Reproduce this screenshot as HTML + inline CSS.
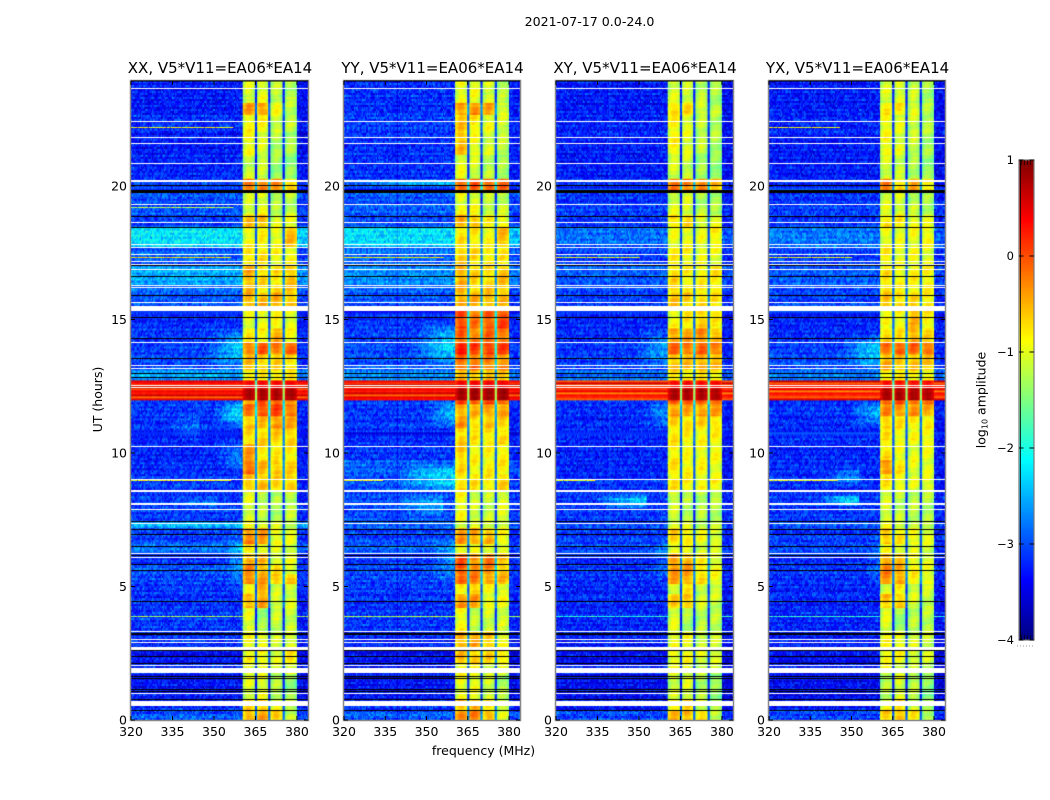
<!DOCTYPE html>
<html lang="en">
<head>
<meta charset="utf-8">
<title>2021-07-17 0.0-24.0</title>
<style>
html,body{margin:0;padding:0;background:#fff;}
#figure{position:relative;width:1050px;height:800px;overflow:hidden;background:#fff;font-family:"DejaVu Sans","Liberation Sans",sans-serif;}
canvas{position:absolute;display:block;}
svg{position:absolute;left:0;top:0;}
text{font-family:"DejaVu Sans","Liberation Sans",sans-serif;fill:#000;}
</style>
</head>
<body>
<div id="figure">
<canvas id="heat-xx" width="177" height="639" style="left:131px;top:81px"></canvas>
<canvas id="heat-yy" width="176" height="639" style="left:344px;top:81px"></canvas>
<canvas id="heat-xy" width="177" height="639" style="left:556px;top:81px"></canvas>
<canvas id="heat-yx" width="176" height="639" style="left:769px;top:81px"></canvas>
<canvas id="cbar" width="15" height="480" style="left:1019px;top:160px"></canvas>
<svg id="overlay" width="1050" height="800" xmlns="http://www.w3.org/2000/svg">
<text x="589.500" y="26" font-size="12.600" text-anchor="middle">2021-07-17 0.0-24.0</text>
<text x="483.500" y="755" font-size="12.500" text-anchor="middle">frequency (MHz)</text>
<text transform="translate(102,399.500) rotate(-90)" font-size="12.500" text-anchor="middle">UT (hours)</text>
<text transform="translate(985.500,400) rotate(-90)" font-size="12.500" text-anchor="middle">log<tspan font-size="8" dy="2">10</tspan><tspan dy="-2"> amplitude</tspan></text>
</svg>
</div>
<script>
// ---- chart data (log10 amplitude, hours, MHz) ----
const panelTitles = ["XX, V5*V11=EA06*EA14","YY, V5*V11=EA06*EA14","XY, V5*V11=EA06*EA14","YX, V5*V11=EA06*EA14"];
const panelKeys = ["xx","yy","xy","yx"];
const xTickValues = [320,335,350,365,380];
const yTickValues = [0,5,10,15,20];
const cbarTickValues = [1,0,-1,-2,-3,-4];
const subbandStarts = [360.6,365.7,370.6,375.6];
const subbandEnds = [364.8,369.8,374.7,380.0];
const segmentEdges = [23.93,23.1,22.65,22.0,21.2,20.25,19.85,19.3,18.9,18.47,17.75,17.0,16.3,16.0,15.5,14.65,14.15,13.65,13.1,12.75,12.42,12.0,11.8,11.35,10.9,10.3,9.75,9.2,8.55,7.42,7.2,6.6,6.2,5.85,5.45,5.05,4.7,4.2,3.3,2.65,2.1,1.7,0.75,0.4,0];
// each row: off-band level, then four sub-band levels
const xxLevels = [[-3.2,-.95,-.9,-1.05,-1.15],[-3.2,-.3,-.3,-.85,-1.1],[-3.1,-.8,-.8,-1,-1.1],[-3.2,-.8,-.95,-1.15,-1.2],[-3.15,-1.05,-1.05,-1.25,-1.3],[-3,-.1,-.2,-.2,-.6],[-2.95,-1,-.95,-1.2,-1.15],[-2.9,-.95,-.9,-1.1,-1.1],[-3,-.5,-.45,-.9,-.85],[-2.15,-.8,-.75,-.85,-.5],[-2.85,-.65,-.7,-.8,-.8],[-2.45,-.4,-.6,-.65,-.5],[-2.8,-.45,-.7,-.6,-.55],[-2.9,-.4,-.45,-.4,-.5],[-3.1,-.9,-.85,-.75,-.9],[-3.05,-.7,-.75,-.4,-.85],[-3,-.15,0,-.1,0],[-2.95,-.5,-.55,-.55,-.65],[-2.5,-.7,-.75,-.7,-.75],[.25,.45,.45,.45,.45],[.3,.85,.85,.85,.85],[-3,-.4,.1,.05,-.3],[-3.05,-.1,.1,.15,-.1],[-3.1,-.5,-.45,-.25,-.4],[-3.15,-.6,-.6,-.55,-.55],[-3.15,-.3,-.65,-.7,-.7],[-3.1,-.05,-.45,-.5,-.6],[-3.05,-.5,-.5,-.6,-.55],[-3,-.95,-1.1,-1.15,-1.1],[-2.4,-.85,-.9,-1,-1.05],[-3,-.2,-.3,-.8,-.9],[-2.75,-.75,-.85,-.95,-1],[-3.1,-.35,-.45,-.9,-.95],[-2.9,-.2,-.4,-.7,-.95],[-3,-.15,-.35,-.5,-.55],[-3.05,-.9,-.35,-1,-1],[-3.1,-.4,-.35,-.95,-1],[-3.05,-.9,-1.25,-1.05,-1.05],[-3.1,-.85,-.85,-1,-.95],[-3.3,-.8,-.8,-.95,-.7],[-3.1,-.85,-.9,-1,-.9],[-3.25,-.95,-.9,-1.1,-1.3],[-3.1,-.6,-.5,-.9,-1.05],[-2.9,-.4,-.4,-.5,-1.05]];
const yyLevels = [[-3.1,-.85,-.85,-.95,-1.15],[-3.1,-.3,-.25,-.35,-.95],[-3,-.5,-.7,-.85,-1],[-3.1,-.45,-.85,-1,-1.1],[-3.1,-.9,-1,-1.1,-1.2],[-2.9,.05,.05,.05,-.05],[-2.9,-.9,-.95,-1.1,-1.1],[-2.85,-.8,-.85,-1,-1.05],[-2.95,-.4,-.45,-.75,-.8],[-2.2,-.65,-.7,-.8,-.5],[-2.8,-.55,-.65,-.7,-.7],[-2.6,-.35,-.55,-.6,-.5],[-2.8,-.4,-.6,-.55,-.5],[-2.9,-.35,-.4,-.4,-.45],[-3.05,.15,-.1,.05,.1],[-3,0,-.15,-.05,-.1],[-2.95,.35,.15,.2,.15],[-2.9,-.05,-.1,-.15,-.25],[-2.6,-.45,-.5,-.5,-.55],[.3,.5,.5,.5,.5],[.3,.9,.9,.9,.9],[-3,.1,.1,.1,0],[-3.05,-.35,-.4,-.3,-.35],[-3.05,-.3,-.6,-.55,-.6],[-3.1,-.55,-.7,-.65,-.65],[-3.05,-.55,-.75,-.75,-.75],[-2.85,-.6,-.75,-.75,-.75],[-2.95,-.65,-.7,-.7,-.6],[-2.95,-.8,-1,-1.05,-.95],[-2.8,-.9,-.95,-1,-1],[-3,-.3,-.35,-.45,-.8],[-2.8,-.75,-.85,-.85,-.95],[-3.05,.05,-.2,-.1,-.5],[-2.95,.1,-.2,-.2,-.5],[-3,-.05,-.15,-.3,-.45],[-3.05,-.8,-.5,-.85,-.9],[-3.1,-.25,-.3,-.85,-.9],[-3.05,-.8,-1.1,-1,-1],[-3.15,-.35,-.35,-.5,-.9],[-3.3,-.45,-.5,-.6,-.7],[-3.15,-.75,-.8,-.9,-.9],[-3.25,-.85,-.85,-1,-1.2],[-3.1,-.45,-.4,-.75,-1],[-2.9,-.2,-.2,-.4,-1]];
const xyLevels = [[-3.2,-.95,-1,-1.1,-1.2],[-3.2,-.6,-.65,-.95,-1.1],[-3.15,-.75,-.9,-1.05,-1.15],[-3.2,-.75,-.95,-1.1,-1.2],[-3.2,-1,-1.05,-1.2,-1.3],[-3.1,-.1,-.15,-.2,-.5],[-3.05,-1,-1,-1.15,-1.2],[-3,-.95,-.95,-1.1,-1.15],[-3.05,-.6,-.6,-.9,-.9],[-2.75,-.85,-.85,-.9,-.75],[-3,-.75,-.8,-.85,-.9],[-2.85,-.6,-.75,-.75,-.7],[-2.95,-.55,-.75,-.7,-.7],[-3,-.5,-.55,-.6,-.65],[-3.15,-.8,-.7,-.55,-.75],[-3.1,-.3,-.35,-.2,-.45],[-3.05,-.05,-.1,0,-.15],[-3,-.45,-.45,-.35,-.5],[-2.75,-.7,-.75,-.7,-.75],[.15,.4,.4,.4,.4],[.15,.85,.85,.85,.8],[-3.1,.05,.05,0,-.05],[-3.1,-.3,-.35,-.3,-.35],[-3.15,-.55,-.65,-.6,-.65],[-3.15,-.7,-.75,-.75,-.75],[-3.15,-.7,-.8,-.8,-.85],[-3.15,-.65,-.75,-.8,-.85],[-3.1,-.7,-.75,-.8,-.8],[-3.05,-1,-1.15,-1.15,-1.15],[-2.95,-.95,-1,-1.05,-1.1],[-3.05,-.6,-.7,-.85,-.95],[-2.95,-.85,-.9,-.95,-1.05],[-3.15,-.3,-.4,-.75,-.9],[-3.05,-.2,-.3,-.6,-.85],[-3.1,-.35,-.35,-.65,-.8],[-3.15,-.9,-.7,-1,-1.05],[-3.15,-.55,-.5,-1,-1.05],[-3.15,-.95,-1.2,-1.1,-1.1],[-3.2,-.85,-.85,-1,-1.05],[-3.35,-.85,-.85,-.95,-.95],[-3.2,-.9,-.95,-1.05,-1.1],[-3.3,-1,-.95,-1.15,-1.3],[-3.2,-.7,-.6,-.95,-1.15],[-3,-.5,-.45,-.7,-1.1]];
const yxLevels = [[-3.2,-.95,-.95,-1.05,-1.2],[-3.2,-.75,-.7,-.9,-1.15],[-3.15,-.8,-.9,-1,-1.15],[-3.2,-.8,-.95,-1.05,-1.2],[-3.2,-1,-1.05,-1.15,-1.3],[-3.1,-.15,-.6,-.4,-.7],[-3.05,-1,-1,-1.1,-1.2],[-3,-.95,-.95,-1.05,-1.15],[-3.05,-.65,-.7,-.85,-.95],[-2.7,-.85,-.9,-.85,-.8],[-3,-.75,-.85,-.8,-.9],[-2.85,-.65,-.8,-.75,-.75],[-2.95,-.6,-.8,-.7,-.75],[-3,-.55,-.6,-.6,-.7],[-3.15,-.8,-.8,-.45,-.75],[-3.1,-.6,-.7,-.35,-.6],[-3,-.1,.05,0,-.1],[-2.95,-.4,-.5,-.5,-.55],[-2.7,-.7,-.75,-.75,-.8],[.2,.4,.4,.4,.4],[.15,.85,.85,.85,.8],[-3.1,.05,.05,.0,-.15],[-3.05,-.2,-.25,-.25,-.4],[-3.15,-.55,-.7,-.7,-.75],[-3.1,-.7,-.8,-.8,-.8],[-3.15,-.65,-.85,-.9,-.9],[-3.1,-.25,-.7,-.9,-.9],[-3.1,-.7,-.8,-.9,-.9],[-3.05,-.95,-1.1,-1.1,-1.15],[-2.9,-.9,-1,-1.05,-1.1],[-3.05,-.5,-.7,-.8,-.95],[-2.95,-.85,-.9,-.95,-1.05],[-3.15,-.3,-.55,-.85,-.95],[-3.05,-.2,-.35,-.7,-.9],[-3.1,-.25,-.35,-.75,-.85],[-3.15,-.95,-.75,-1,-1.05],[-3.15,-.5,-.55,-1,-1.05],[-3.15,-.95,-1.25,-1.1,-1.1],[-3.2,-.8,-.85,-1,-1.05],[-3.35,-.8,-.85,-.95,-1],[-3.2,-.9,-.95,-1.05,-1.1],[-3.3,-1.1,-.95,-1.1,-1.35],[-3.2,-.85,-.6,-.95,-1.2],[-3,-.6,-.45,-.7,-1.15]];
const panelLevels = [xxLevels,yyLevels,xyLevels,yxLevels];
// faint patches: tStart, tEnd, fStart, fEnd, added log10 amplitude
const xxPatches = [[10.9,12.0,350,361,.9],[13.1,14.7,347,361,.7],[9.3,10.5,350,361,.45],[5,7.1,354,361,.5],[7.95,8.25,336,351,.5],[12.0,12.42,345,358,-.55],[10.4,11.6,333,345,.35]];
const yyPatches = [[10.9,12.0,350,361,.7],[13.2,14.9,346,361,.75],[8.5,9.6,338,361,.75],[7.6,8.5,338,356,.5],[5,7.1,351,361,.4],[12.0,12.42,345,358,-.5],[20.0,20.2,320,361,.7]];
const xyPatches = [[10.9,12.0,351,361,.55],[13.1,14.7,348,361,.55],[7.9,8.5,334,353,.8],[5,7,354,361,.35],[12.0,12.42,345,358,-.5]];
const yxPatches = [[10.9,12.0,349,361,.65],[13.1,14.5,347,361,.75],[8.0,8.45,338,353,.95],[8.7,9.5,340,353,.5],[12.0,12.42,340,358,-.5],[5,7,355,361,.3]];
const panelPatches = [xxPatches,yyPatches,xyPatches,yxPatches];
// narrow interference rows: hour, fStart, fEnd, level
const xxLines = [[22.21,320,357,-.95],[19.2,320,357,-1.25],[17.34,320,356,-.8],[8.98,320,356,-1],[3.89,320,384,-1.35]];
const yyLines = [[20.85,320,351,-1.2],[17.34,320,356,-.9],[8.98,320,334,-1],[3.89,320,384,-1.3]];
const xyLines = [[17.34,320,350,-1],[8.98,320,334,-1],[3.89,320,384,-2]];
const yxLines = [[22.21,320,346,-1],[17.34,320,350,-1],[8.98,320,345,-1],[3.89,320,384,-1.9]];
const panelLines = [xxLines,yyLines,xyLines,yxLines];
// flagged rows common to all panels: hour (top edge), height in hours
const whiteRows = [[23.68,.04],[22.44,.04],[21.83,.04],[21.62,.04],[20.87,.04],[20.21,.08],[19.34,.04],[18.66,.04],[17.83,.04],[17.71,.04],[17.44,.04],[17.18,.04],[17.09,.04],[16.88,.04],[16.29,.04],[16.22,.04],[15.67,.04],[15.49,.19],[14.14,.04],[13.30,.04],[13.20,.04],[12.56,.04],[12.47,.04],[10.27,.04],[9.03,.04],[8.61,.08],[8.11,.04],[7.89,.04],[7.39,.04],[6.24,.04],[6.09,.04],[3.32,.04],[3.02,.04],[2.92,.04],[2.73,.09],[2.07,.04],[1.93,.18],[1.0,.04],[.71,.19]];
const blackRows = [[20.05,.07],[19.83,.09],[18.87,.04],[18.46,.04],[17.03,.04],[16.63,.04],[15.9,.04],[15.09,.04],[14.32,.04],[13.57,.04],[13.01,.04],[12.83,.04],[7.45,.04],[7.17,.04],[6.95,.04],[6.5,.04],[6.19,.04],[5.86,.04],[5.61,.04],[4.46,.04],[3.24,.04],[2.62,.04],[2.4,.04],[2.12,.04],[1.66,.04],[1.56,.04],[1.16,.04],[1.09,.04],[.79,.04],[.37,.04]];
// hand-typed measurement grain applied to cells
const grainOffsets = [.12,-.21,.05,.3,-.14,-.02,.22,-.3,.08,-.09,.17,-.25,.34,-.06,.01,-.18,.26,-.12,.09,-.33,.15,.04,-.22,.28,-.07,.19,-.16,.02,.38,-.27,.11,-.04,.24,-.19,-.1,.31,-.29,.07,.14,-.23,.03,.2,-.13,-.35,.27,-.01,.16,-.2,.1,.42,-.26,-.08,.18,-.15,.06,-.31,.23,-.11,.13,-.03,.29];
const rowTexture = [.05,-.08,.12,-.03,-.12,.08,.02,-.06,.15,-.1,.04,-.02,.1,-.14,.06,.01,-.07,.13,-.05,.09,-.11,.03,.07,-.09,.11,-.04,-.13,.06,.14];
const subbandShape = [-.2,-.08,.02,.06,.08,.06,.03,-.03,-.1,-.18];
// slow ripple seen inside the bright sub-bands (fringes)
const bandRipple = [.01,.05,.09,.11,.08,.03,-.03,-.09,-.13,-.15,-.12,-.06,-.01,.04,.1,.07,.02,-.04,-.1,-.16,-.13,-.07,-.02];
const bandTrim = -.1;
const offTrim = -.1;
const gapDrop = 2.2;

// ---- geometry and axis functions ----
const panelLefts = [131,344,556,769];
const panelWidths = [177,176,177,176];
const plotTop = 81, plotHeight = 639;
const fMin = 320, fMax = 384, tMax = 23.93;
const cols = 160, rows = 320;
function xScale(f,w){return (f-fMin)/(fMax-fMin)*w;}
function yScale(t){return plotHeight*(1-t/tMax);}
function cbarScale(v){return 480*(1-(v+4)/5);}
function clamp01(x){return Math.max(0,Math.min(1,x));}
function jet(v){
  const f = clamp01((v+4)/5);
  const r = clamp01(1.5-Math.abs(4*f-3));
  const g = clamp01(1.5-Math.abs(4*f-2));
  const b = clamp01(1.5-Math.abs(4*f-1));
  return "rgb("+Math.round(r*255)+","+Math.round(g*255)+","+Math.round(b*255)+")";
}
function segmentIndex(t){
  for(let i=0;i<segmentEdges.length-1;i++){ if(t<=segmentEdges[i] && t>segmentEdges[i+1]) return i; }
  return segmentEdges.length-2;
}
function cellValue(p,r,c,t,f){
  const lv = panelLevels[p][segmentIndex(t)];
  const grain = grainOffsets[(c*7+r*13+c*r+p*5)%grainOffsets.length];
  const tex = rowTexture[(r+p)%rowTexture.length];
  const hot = lv[0]>-1;
  for(let s=0;s<4;s++){
    if(f>=subbandStarts[s] && f<subbandEnds[s]){
      const frac = (f-subbandStarts[s])/(subbandEnds[s]-subbandStarts[s]);
      const shape = subbandShape[Math.min(subbandShape.length-1,Math.floor(frac*subbandShape.length))];
      const ripple = hot?0:bandRipple[(r+s*5+p*3+Math.floor(frac*3))%bandRipple.length];
      return lv[s+1]+bandTrim+shape+ripple+grain*.2+tex*.5;
    }
  }
  if(f>=subbandStarts[0] && f<subbandEnds[3]){
    const mean = (lv[1]+lv[2]+lv[3]+lv[4])/4;
    return mean-gapDrop+grain*.4;
  }
  if(hot) return lv[0]+grain*.2+tex*3;
  let v = lv[0]+offTrim+grain*1.1+tex;
  if(f>=subbandEnds[3]) v-=.12;
  panelPatches[p].forEach(function(q){
    if(t>=q[0]&&t<q[1]&&f>=q[2]&&f<q[3]){
      const ft = q[4]>0?Math.sin((f-q[2])/(q[3]-q[2])*Math.PI/2):1;
      const tt = q[4]>0?Math.sin((t-q[0])/(q[1]-q[0])*Math.PI):1;
      v+=q[4]*ft*tt;
    }
  });
  return v;
}
panelKeys.forEach(function(key,p){
  const ctx = document.getElementById("heat-"+key).getContext("2d");
  const w = panelWidths[p];
  const cw = w/cols, rh = tMax/rows;
  for(let r=0;r<rows;r++){
    const t = tMax-(r+.5)*rh;
    const y0 = yScale(t+rh/2), y1 = yScale(t-rh/2);
    for(let c=0;c<cols;c++){
      const f = fMin+(c+.5)*(fMax-fMin)/cols;
      ctx.fillStyle = jet(cellValue(p,r,c,t,f));
      ctx.fillRect(c*cw,y0,cw+.6,y1-y0+.6);
    }
  }
  panelLines[p].forEach(function(q){
    for(let c=0;c<cols;c++){
      const f = fMin+(c+.5)*(fMax-fMin)/cols;
      if(f<q[1]||f>=q[2]) continue;
      if(f>=subbandStarts[0]&&f<subbandEnds[3]) continue;
      const g = grainOffsets[(c*11+p)%grainOffsets.length];
      if(g<-.27) continue;
      ctx.fillStyle = jet(q[3]+g);
      ctx.fillRect(c*cw,Math.round(yScale(q[0])),cw+.6,1);
    }
  });
  blackRows.forEach(function(q){
    ctx.fillStyle = "#000";
    const y = Math.round(yScale(q[0]));
    ctx.fillRect(0,y,w,Math.max(1,Math.round(yScale(q[0]-q[1])-y)));
  });
  whiteRows.forEach(function(q){
    ctx.fillStyle = "#fff";
    const y = Math.round(yScale(q[0]));
    ctx.fillRect(0,y,w,Math.max(1,Math.round(yScale(q[0]-q[1])-y)));
  });
});

// ---- colorbar ----
(function(){
  const ctx = document.getElementById("cbar").getContext("2d");
  for(let y=0;y<480;y++){
    const v = 1-(y+.5)/480*5;
    ctx.fillStyle = jet(v);
    ctx.fillRect(0,y,15,1);
  }
})();

// ---- axes ----
const overlay = document.getElementById("overlay");
const NS = "http://www.w3.org/2000/svg";
function svgEl(tag,attrs,txt){
  const el = document.createElementNS(NS,tag);
  for(const k in attrs) el.setAttribute(k,attrs[k]);
  if(txt!==undefined) el.textContent = txt;
  overlay.appendChild(el);
  return el;
}
panelKeys.forEach(function(key,p){
  const L = panelLefts[p], W = panelWidths[p], B = plotTop+plotHeight;
  const frame = svgEl("rect",{x:L-.5,y:plotTop-.5,width:W+1,height:plotHeight+1,fill:"none",stroke:"#888","stroke-width":1.5});
  
  
  const top = svgEl("line",{x1:L,x2:L+W,y1:plotTop,y2:plotTop,stroke:"#000","stroke-width":1});
  
  
  const title = svgEl("text",{x:L+W/2+.5,y:73,"font-size":15,"text-anchor":"middle"},panelTitles[p]);
  
  
  xTickValues.forEach(function(v){
    const x = L+xScale(v,W);
    const tickB = svgEl("line",{x1:x,x2:x,y1:B,y2:B-4,stroke:"#000","stroke-width":1});
    
    
    const tickT = svgEl("line",{x1:x,x2:x,y1:plotTop,y2:plotTop+4,stroke:"#000","stroke-width":1});
    
    
    const lab = svgEl("text",{x:x,y:736,"font-size":12.5,"text-anchor":"middle"},String(v));
    
    
  });
  yTickValues.forEach(function(v){
    const y = plotTop+yScale(v);
    const tickL = svgEl("line",{x1:L,x2:L+4,y1:y,y2:y,stroke:"#000","stroke-width":1});
    
    
    const tickR = svgEl("line",{x1:L+W,x2:L+W-4,y1:y,y2:y,stroke:"#000","stroke-width":1});
    
    
    const lab = svgEl("text",{x:L-4,y:y+4.5,"font-size":12.5,"text-anchor":"end"},String(v));
    
    
  });
});
const cbarFrame = svgEl("rect",{x:1019,y:160,width:15,height:480,fill:"none",stroke:"#777","stroke-width":1.2});


const cbarInner = svgEl("line",{x1:1020.5,x2:1020.5,y1:160,y2:640,stroke:"#000","stroke-width":.8});


const cbarMinorTop = svgEl("line",{x1:1021,x2:1033,y1:162.5,y2:162.5,stroke:"#000","stroke-width":5,"stroke-dasharray":"1 2",opacity:.6});


const cbarMinorBot = svgEl("line",{x1:1021,x2:1033,y1:637.5,y2:637.5,stroke:"#000","stroke-width":5,"stroke-dasharray":"1 2",opacity:.6});


cbarTickValues.forEach(function(v){
  const y = 160+cbarScale(v);
  const t1 = svgEl("line",{x1:1019,x2:1023.5,y1:y,y2:y,stroke:"#000","stroke-width":1});
  
  
  const t2 = svgEl("line",{x1:1034,x2:1029.5,y1:y,y2:y,stroke:"#000","stroke-width":1});
  
  
  const lab = svgEl("text",{x:1014,y:y+4,"font-size":11.5,"text-anchor":"end"},String(v).replace("-","\u2212"));
  
  
});
const cbarDots = svgEl("line",{x1:1017,x2:1034,y1:646,y2:646,stroke:"#999","stroke-width":1,"stroke-dasharray":"1 2"});


</script>
</body>
</html>
